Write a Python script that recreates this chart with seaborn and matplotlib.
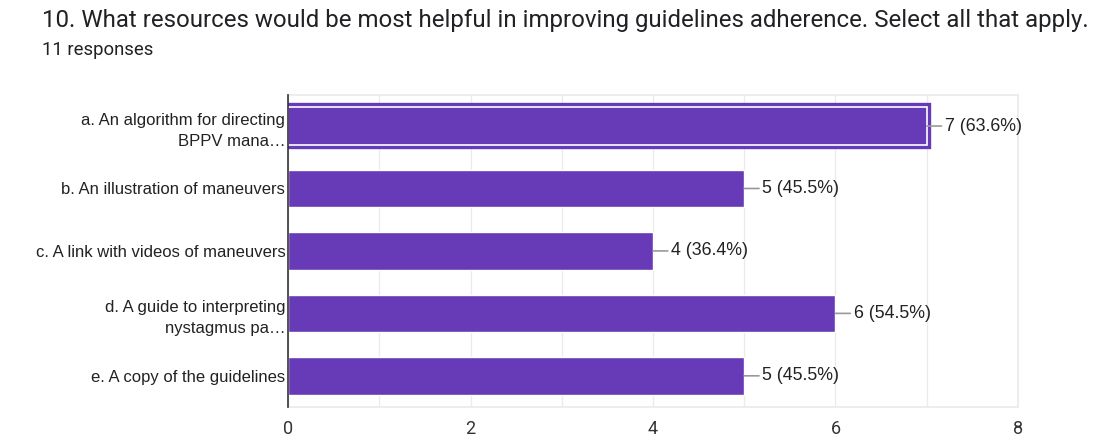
import matplotlib
matplotlib.use("Agg")
import matplotlib.pyplot as plt
import matplotlib.patheffects as pe
import seaborn as sns
import pandas as pd

categories = ["a. An algorithm for directing\nBPPV mana…",
              "b. An illustration of maneuvers",
              "c. A link with videos of maneuvers",
              "d. A guide to interpreting\nnystagmus pa…",
              "e. A copy of the guidelines"]
counts = [7, 5, 4, 6, 5]
percents = ["63.6%", "45.5%", "36.4%", "54.5%", "45.5%"]
xticks = [0, 2, 4, 6, 8]

sns.set_theme(style="white")
plt.rcParams['font.family'] = ['Liberation Sans', 'DejaVu Sans']

df = pd.DataFrame({"cat": categories, "n": counts})
fig = plt.figure(figsize=(10.94, 4.41), dpi=100)
ax = fig.add_axes([0.2633, 0.077, 0.6672, 0.708])
purple = "#673AB7"
sns.barplot(data=df, y="cat", x="n", color=purple, saturation=1, width=0.6, ax=ax, zorder=3)

# highlight first bar
p0 = ax.patches[0]
p0.set_edgecolor("white")
p0.set_linewidth(1.2)
p0.set_path_effects([pe.Stroke(linewidth=6, foreground=purple), pe.Normal()])

ax.set_xlim(0, 8)
ax.set_ylim(4.5, -0.5)
ax.set_xticks(xticks)
ax.set_xticks(range(0, 9), minor=True)
ax.grid(True, axis="x", which="both", color="#EBEBEB", linewidth=1, zorder=0)
ax.set_xlabel("")
ax.set_ylabel("")
for s in ["top", "right", "bottom"]:
    ax.spines[s].set_color("#EBEBEB")
ax.spines["left"].set_color("#333333")
ax.spines["left"].set_linewidth(1.2)
ax.spines["left"].set_zorder(4)
ax.tick_params(axis="x", which="both", length=0, labelsize=13, colors="#333333", pad=9)
ax.tick_params(axis="y", length=0, labelsize=12, colors="#222222", pad=2)
for t in ax.get_xticklabels():
    t.set_family("Roboto")
for t in ax.get_yticklabels():
    t.set_horizontalalignment("right")
    t.set_multialignment("right")
    t.set_linespacing(1.55)

for i, (n, pc) in enumerate(zip(counts, percents)):
    ax.annotate(f"{n} ({pc})", xy=(n, i), xytext=(13, 0), textcoords="offset points",
                va="center", ha="left", fontsize=12.8, color="#222222",
                arrowprops=dict(arrowstyle="-", color="#999999", lw=1.2,
                                shrinkA=0, shrinkB=0), zorder=5)

fig.text(42 / 1094, 1 - 20 / 441, "10. What resources would be most helpful in improving guidelines adherence. Select all that apply.",
         fontsize=17.3, color="#202124", va="center", ha="left", family="Roboto")
fig.text(42 / 1094, 1 - 50 / 441, "11 responses", fontsize=13.3, color="#202124", va="center", ha="left", family="Roboto")

fig.savefig("out.png", dpi=100)
